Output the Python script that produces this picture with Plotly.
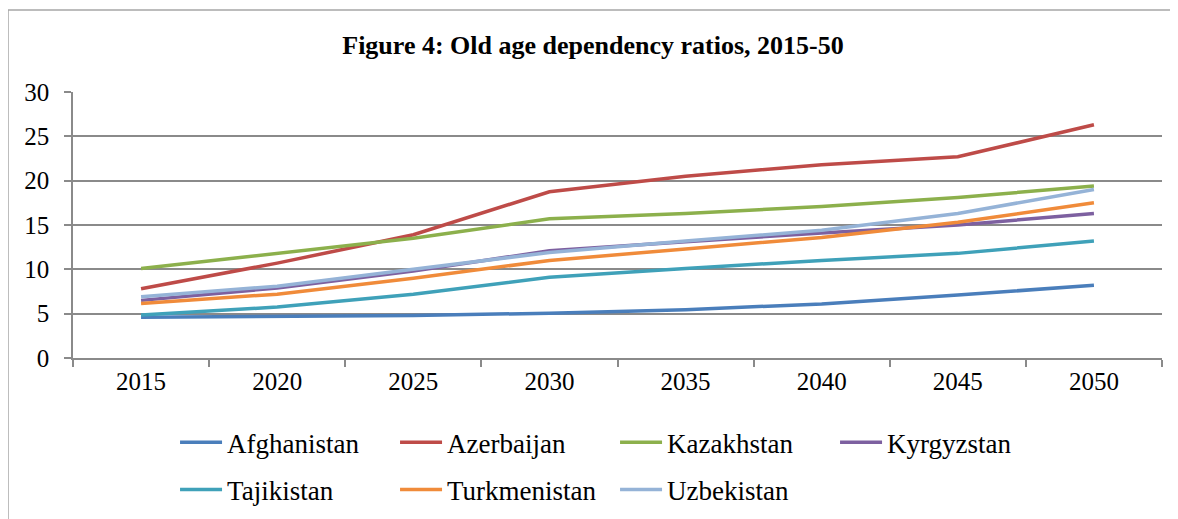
import plotly.graph_objects as go

years = ["2015", "2020", "2025", "2030", "2035", "2040", "2045", "2050"]

afghanistan = [4.6, 4.7, 4.8, 5.05, 5.45, 6.1, 7.1, 8.2]
azerbaijan = [7.8, 10.7, 13.9, 18.75, 20.5, 21.8, 22.7, 26.3]
kazakhstan = [10.1, 11.8, 13.5, 15.7, 16.3, 17.1, 18.1, 19.4]
kyrgyzstan = [6.5, 7.9, 9.8, 12.1, 13.1, 14.1, 15.0, 16.3]
tajikistan = [4.85, 5.75, 7.2, 9.1, 10.1, 11.0, 11.8, 13.2]
turkmenistan = [6.15, 7.2, 9.0, 11.0, 12.3, 13.6, 15.3, 17.5]
uzbekistan = [6.9, 8.1, 10.0, 11.9, 13.2, 14.4, 16.3, 19.0]

# name, values, colour, legend row
series = [
    ("Afghanistan", afghanistan, "#4A7EBB", "legend"),
    ("Azerbaijan", azerbaijan, "#BE4B48", "legend"),
    ("Kazakhstan", kazakhstan, "#8CB04C", "legend"),
    ("Kyrgyzstan", kyrgyzstan, "#7D60A0", "legend"),
    ("Tajikistan", tajikistan, "#3FA1B9", "legend2"),
    ("Turkmenistan", turkmenistan, "#F08B3A", "legend2"),
    ("Uzbekistan", uzbekistan, "#95B3D7", "legend2"),
]

font = "Liberation Serif, Times New Roman, serif"
grey = "#8a8a8a"

fig = go.Figure()
for name, vals, color, leg in series:
    fig.add_trace(go.Scatter(x=years, y=vals, name=name, mode="lines", legend=leg,
                             line=dict(color=color, width=3.5)))

legend_common = dict(orientation="h", xanchor="left", yanchor="middle",
                     entrywidth=163, entrywidthmode="pixels", itemwidth=42,
                     font=dict(family=font, size=27), bgcolor="rgba(0,0,0,0)")

fig.update_layout(
    width=1170, height=511,
    margin=dict(l=65, r=16, t=84, b=161, autoexpand=False),
    paper_bgcolor="white", plot_bgcolor="white",
    font=dict(family=font, size=25, color="black"),
    title=dict(text="<b>Figure 4: Old age dependency ratios, 2015-50</b>",
               x=0.5, xanchor="center", y=0.928, yanchor="middle",
               font=dict(family=font, size=26, color="black")),
    showlegend=True,
    legend=dict(x=0.0937, y=-0.318, **legend_common),
    legend2=dict(x=0.0937, y=-0.496, **legend_common),
    shapes=[dict(type="rect", xref="paper", yref="paper",
                 x0=-0.0597, x1=1.0129, y0=-0.75, y1=1.308,
                 line=dict(color="#a6a6a6", width=1.5), layer="below")],
)

fig.update_xaxes(type="category", showgrid=False, showline=True, linecolor=grey,
                 linewidth=1.5, ticks="outside", tickson="boundaries", ticklen=7,
                 tickcolor=grey, tickwidth=1.5, tickfont=dict(size=25),
                 range=[-0.5, 7.5])
fig.update_yaxes(range=[0, 30], dtick=5, showgrid=True, gridcolor=grey, gridwidth=1.5,
                 showline=True, linecolor=grey, linewidth=1.5, ticks="outside",
                 ticklen=7, tickcolor=grey, tickwidth=1.5, zeroline=False,
                 ticklabelstandoff=10, tickfont=dict(size=25))

fig.write_html("out.html")
